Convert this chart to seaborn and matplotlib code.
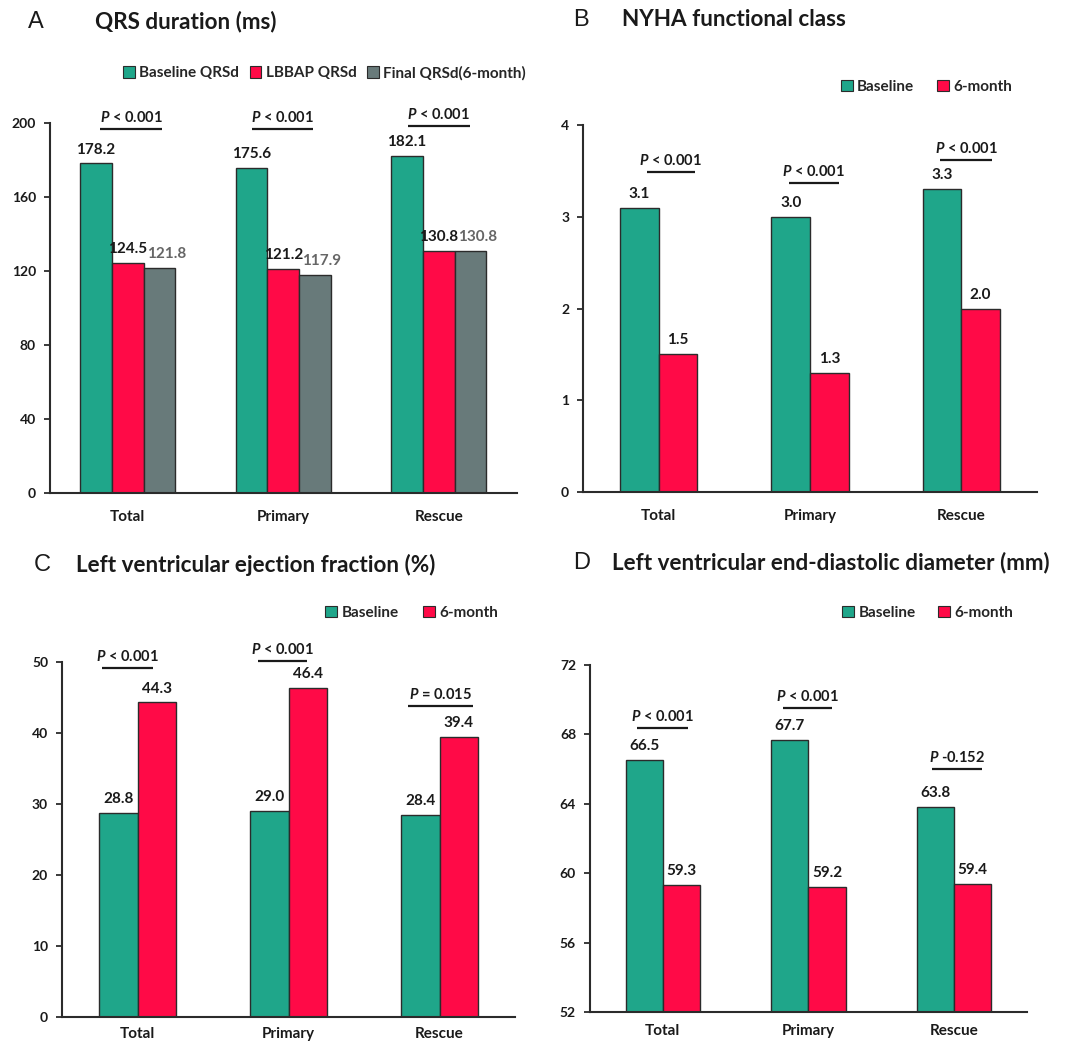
import numpy as np
import pandas as pd
import matplotlib
matplotlib.use('Agg')
import matplotlib.pyplot as plt
from matplotlib.patches import Patch
import seaborn as sns

sns.set_style('white')
plt.rcParams['font.family'] = ['Lato', 'DejaVu Sans']
plt.rcParams['mathtext.fontset'] = 'custom'
plt.rcParams['mathtext.it'] = 'Lato:italic:bold'
plt.rcParams['mathtext.rm'] = 'Lato:bold'

# data
groups = ['Total', 'Primary', 'Rescue']

qrs_baseline = [178.2, 175.6, 182.1]
qrs_lbbap = [124.5, 121.2, 130.8]
qrs_final = [121.8, 117.9, 130.8]
qrs_p = ['< 0.001', '< 0.001', '< 0.001']

nyha_baseline = [3.1, 3.0, 3.3]
nyha_6m = [1.5, 1.3, 2.0]
nyha_p = ['< 0.001', '< 0.001', '< 0.001']

lvef_baseline = [28.8, 29.0, 28.4]
lvef_6m = [44.3, 46.4, 39.4]
lvef_p = ['< 0.001', '< 0.001', '= 0.015']

lvedd_baseline = [66.5, 67.7, 63.8]
lvedd_6m = [59.3, 59.2, 59.4]
lvedd_p = ['< 0.001', '< 0.001', '-0.152']

teal = '#1fa68a'
red = '#ff0a47'
grey = '#687a7a'
ink = '#1a1a1a'

panels = [
    dict(letter='A', title='QRS duration (ms)',
         rect=[0.0465, 0.528, 0.434, 0.354],
         series=[qrs_baseline, qrs_lbbap, qrs_final],
         names=['Baseline QRSd', 'LBBAP QRSd', 'Final QRSd(6-month)'],
         colors=[teal, red, grey], label_colors=[ink, ink, '#666666'],
         label_dx=[0, 0, 5], width=0.61,
         ylim=(0, 200), yticks=np.arange(0, 201, 40),
         pvals=qrs_p, p_y=[197, 197, 198.4],
         p_x=[(-0.18, 0.22), (-0.2, 0.19), (-0.2, 0.2)],
         letter_xy=(0.026, 0.979), title_x=0.088,
         leg_xy=(0.302, 0.930), colspace=0.7, xpad=9),
    dict(letter='B', title='NYHA functional class',
         rect=[0.5423, 0.5287, 0.4223, 0.3516],
         series=[nyha_baseline, nyha_6m],
         names=['Baseline', '6-month'],
         colors=[teal, red], label_colors=[ink, ink],
         label_dx=[0, 0], width=0.51,
         ylim=(0, 4), yticks=np.arange(0, 5, 1),
         pvals=nyha_p, p_y=[3.49, 3.37, 3.62],
         p_x=[(-0.08, 0.24), (-0.14, 0.19), (-0.14, 0.2)],
         letter_xy=(0.533, 0.981), title_x=0.579,
         leg_xy=(0.862, 0.917), colspace=1.5, xpad=9),
    dict(letter='C', title='Left ventricular ejection fraction (%)',
         rect=[0.0577, 0.0259, 0.4214, 0.34],
         series=[lvef_baseline, lvef_6m],
         names=['Baseline', '6-month'],
         colors=[teal, red], label_colors=[ink, ink],
         label_dx=[0, 0], width=0.51,
         ylim=(0, 50), yticks=np.arange(0, 51, 10),
         pvals=lvef_p, p_y=[49.2, 50.1, 43.8],
         p_x=[(-0.235, 0.1), (-0.2, 0.12), (-0.21, 0.22)],
         letter_xy=(0.031, 0.459), title_x=0.0707,
         leg_xy=(0.383, 0.413), colspace=1.6, xpad=4),
    dict(letter='D', title='Left ventricular end-diastolic diameter (mm)',
         rect=[0.5488, 0.0307, 0.4065, 0.3323],
         series=[lvedd_baseline, lvedd_6m],
         names=['Baseline', '6-month'],
         colors=[teal, red], label_colors=[ink, ink],
         label_dx=[0, 0], width=0.51,
         ylim=(52, 72), yticks=np.arange(52, 73, 4),
         pvals=lvedd_p, p_y=[68.37, 69.5, 66.0],
         p_x=[(-0.18, 0.17), (-0.175, 0.16), (-0.15, 0.19)],
         letter_xy=(0.533, 0.461), title_x=0.569,
         leg_xy=(0.863, 0.413), colspace=1.5, xpad=5),
]

fig = plt.figure(figsize=(10.75, 10.44), dpi=100)

for p in panels:
    ax = fig.add_axes(p['rect'])
    rows = []
    for name, vals in zip(p['names'], p['series']):
        for g, v in zip(groups, vals):
            rows.append({'group': g, 'series': name, 'value': v})
    df = pd.DataFrame(rows)

    sns.barplot(data=df, x='group', y='value', hue='series',
                order=groups, hue_order=p['names'], palette=p['colors'],
                width=p['width'], saturation=1, errorbar=None,
                edgecolor='#2b2b2b', linewidth=1, legend=False, ax=ax)

    # value labels on top of each bar
    for cont, col, dx in zip(ax.containers, p['label_colors'], p['label_dx']):
        for bar in cont:
            h = bar.get_height()
            ax.annotate(f'{h:.1f}', (bar.get_x() + bar.get_width() / 2, h),
                        xytext=(dx, 5), textcoords='offset points',
                        ha='center', va='bottom', fontsize=11,
                        fontweight='bold', color=col)

    # significance lines
    for i, (txt, y, (x0, x1)) in enumerate(zip(p['pvals'], p['p_y'], p['p_x'])):
        ax.plot([i + x0, i + x1], [y, y], color=ink, lw=1.6,
                clip_on=False, solid_capstyle='butt')
        ax.annotate(f'$P$ {txt}', (i + (x0 + x1) / 2, y), xytext=(0, 3),
                    textcoords='offset points', ha='center', va='bottom',
                    fontsize=10.5, fontweight='bold', color=ink,
                    annotation_clip=False)

    ax.set_xlim(-0.5, 2.5)
    ax.set_ylim(*p['ylim'])
    ax.set_yticks(p['yticks'])
    ax.set_xlabel('')
    ax.set_ylabel('')
    for s in ['top', 'right']:
        ax.spines[s].set_visible(False)
    for s in ['left', 'bottom']:
        ax.spines[s].set_color('#2b2b2b')
        ax.spines[s].set_linewidth(1.5)
    ax.tick_params(axis='y', left=True, length=4, width=1.3, pad=6,
                   labelsize=10, color='#2b2b2b')
    ax.tick_params(axis='x', bottom=False, pad=p['xpad'], labelsize=11)
    for lab in ax.get_yticklabels() + ax.get_xticklabels():
        lab.set_fontweight('bold')
        lab.set_color(ink)

    handles = [Patch(facecolor=c, edgecolor='#2b2b2b', linewidth=0.8, label=n)
               for c, n in zip(p['colors'], p['names'])]
    fig.legend(handles=handles, loc='center', bbox_to_anchor=p['leg_xy'],
               ncol=len(handles), frameon=False, handlelength=0.75,
               handleheight=0.75, handletextpad=0.3,
               columnspacing=p['colspace'],
               prop={'weight': 'bold', 'size': 11})

    lx, ly = p['letter_xy']
    fig.text(lx, ly, p['letter'], fontsize=17, family='Liberation Sans',
             va='center', ha='left', color=ink)
    fig.text(p['title_x'], ly, p['title'], fontsize=16.2, fontweight='bold',
             va='center', ha='left', color=ink)

fig.savefig('out.png', dpi=100)
